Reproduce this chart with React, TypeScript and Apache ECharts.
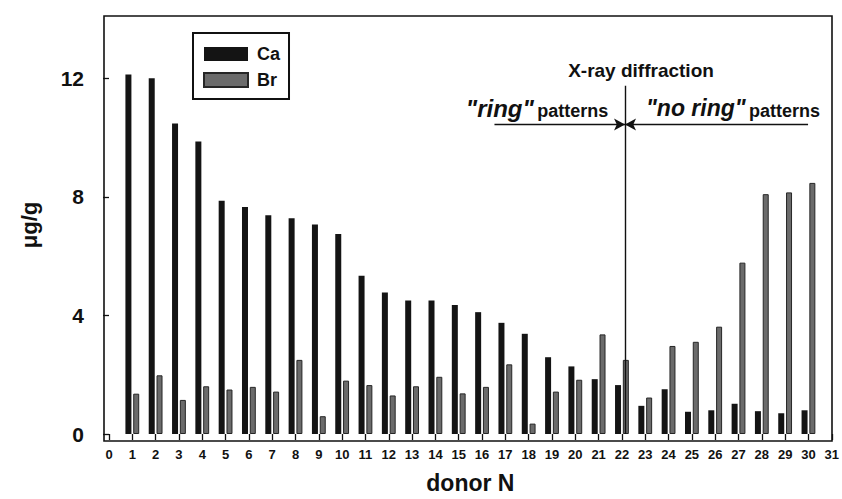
import React, { useEffect, useRef } from "react";
import * as echarts from "echarts";

const donors = [1, 2, 3, 4, 5, 6, 7, 8, 9, 10, 11, 12, 13, 14, 15, 16, 17, 18, 19, 20, 21, 22, 23, 24, 25, 26, 27, 28, 29, 30];
const caValues = [12.13, 12.0, 10.47, 9.87, 7.87, 7.66, 7.38, 7.28, 7.07, 6.75, 5.34, 4.77, 4.5, 4.5, 4.35, 4.11, 3.75, 3.38, 2.59, 2.28, 1.85, 1.65, 0.95, 1.51, 0.75, 0.8, 1.02, 0.77, 0.7, 0.8];
const brValues = [1.36, 1.98, 1.15, 1.61, 1.5, 1.59, 1.43, 2.5, 0.6, 1.8, 1.65, 1.3, 1.61, 1.93, 1.37, 1.59, 2.35, 0.35, 1.43, 1.83, 3.36, 2.5, 1.23, 2.97, 3.11, 3.62, 5.78, 8.09, 8.15, 8.47];
const yTicks = [0, 4, 8, 12];
const dividerX = 22.3;
const dividerTop = 11.75;
const arrowY = 10.44;
const arrowLeftStart = 16.7;
const arrowRightStart = 30.15;

const FONT = "'Liberation Sans', Arial, Helvetica, sans-serif";
const INK = "#111";

export default function App() {
  const ref = useRef<HTMLDivElement>(null);
  useEffect(() => {
    document.body.style.margin = "0";
    const chart = echarts.init(ref.current!, null, { renderer: "svg" });
    chart.setOption({
      animation: false,
      backgroundColor: "#fff",
      textStyle: { fontFamily: FONT, color: INK },
      grid: { left: 109, right: 10, top: 16, bottom: 58 },
      legend: {
        orient: "vertical",
        left: 193,
        top: 33,
        padding: [12, 9, 10, 10],
        itemGap: 8,
        itemWidth: 44,
        itemHeight: 14,
        borderColor: INK,
        borderWidth: 2,
        icon: "rect",
        textStyle: { fontFamily: FONT, fontSize: 18, fontWeight: "bold", color: INK, padding: [0, 0, 0, 4] },
        data: ["Ca", "Br"],
      },
      xAxis: {
        type: "value",
        min: 0,
        max: 31,
        interval: 1,
        name: "donor N",
        nameLocation: "middle",
        nameGap: 37,
        nameTextStyle: { fontFamily: FONT, fontSize: 23, fontWeight: "bold", color: INK },
        axisLine: { show: false },
        axisTick: { show: true, length: 6, lineStyle: { color: INK, width: 1.3 } },
        axisLabel: { fontFamily: FONT, fontSize: 13, fontWeight: "bold", color: INK, margin: 14 },
        splitLine: { show: false },
      },
      yAxis: {
        type: "value",
        min: 0,
        max: 14.1,
        interval: 4,
        offset: 5,
        name: "μg/g",
        nameLocation: "middle",
        nameRotate: 90,
        nameGap: 64,
        nameTextStyle: { fontFamily: FONT, fontSize: 22, fontWeight: "bold", color: INK },
        axisLine: { show: false },
        axisTick: { show: true, length: 6, customValues: yTicks, lineStyle: { color: INK, width: 1.3 } },
        axisLabel: { fontFamily: FONT, fontSize: 21, fontWeight: "bold", color: INK, margin: 20, customValues: yTicks },
        splitLine: { show: false },
      },
      graphic: [
        {
          type: "rect",
          shape: { x: 104, y: 16, width: 728, height: 425 },
          style: { fill: "none", stroke: INK, lineWidth: 1.6 },
          z: 10,
          silent: true,
        },
        {
          type: "text",
          x: 641,
          y: 70,
          z: 11,
          style: { text: "X-ray diffraction", font: `bold 19px ${FONT}`, fill: INK, align: "center", verticalAlign: "middle" },
        },
        {
          type: "text",
          x: 537,
          y: 108,
          z: 11,
          style: {
            text: '{q|"ring"} {p|patterns}',
            align: "center",
            verticalAlign: "middle",
            fill: INK,
            rich: {
              q: { fontFamily: FONT, fontSize: 24, fontWeight: "bold", fontStyle: "italic", fill: INK, verticalAlign: "bottom" },
              p: { fontFamily: FONT, fontSize: 18, fontWeight: "bold", fill: INK, verticalAlign: "bottom" },
            },
          },
        },
        {
          type: "text",
          x: 733,
          y: 108,
          z: 11,
          style: {
            text: '{q|"no ring"} {p|patterns}',
            align: "center",
            verticalAlign: "middle",
            fill: INK,
            rich: {
              q: { fontFamily: FONT, fontSize: 23, fontWeight: "bold", fontStyle: "italic", fill: INK, verticalAlign: "bottom" },
              p: { fontFamily: FONT, fontSize: 18, fontWeight: "bold", fill: INK, verticalAlign: "bottom" },
            },
          },
        },
      ],
      series: [
        {
          name: "Ca",
          type: "bar",
          barWidth: 6,
          barGap: "30%",
          itemStyle: { color: "#141414" },
          data: donors.map((d, i) => [d, caValues[i]]),
          markLine: {
            silent: true,
            symbol: ["none", "arrow"],
            symbolSize: [9, 11],
            label: { show: false },
            lineStyle: { color: INK, width: 1.4, type: "solid" },
            data: [
              [
                { coord: [dividerX, 0], symbol: "none" },
                { coord: [dividerX, dividerTop], symbol: "none" },
              ],
              [{ coord: [arrowLeftStart, arrowY] }, { coord: [dividerX, arrowY] }],
              [{ coord: [arrowRightStart, arrowY] }, { coord: [dividerX, arrowY] }],
            ],
          },
        },
        {
          name: "Br",
          type: "bar",
          barWidth: 6,
          barGap: "30%",
          itemStyle: { color: "#6b6b6b", borderColor: "#262626", borderWidth: 1 },
          data: donors.map((d, i) => [d, brValues[i]]),
        },
      ],
    });
    return () => chart.dispose();
  }, []);
  return <div ref={ref} style={{ position: "absolute", left: 0, top: 0, width: 842, height: 499 }} />;
}
